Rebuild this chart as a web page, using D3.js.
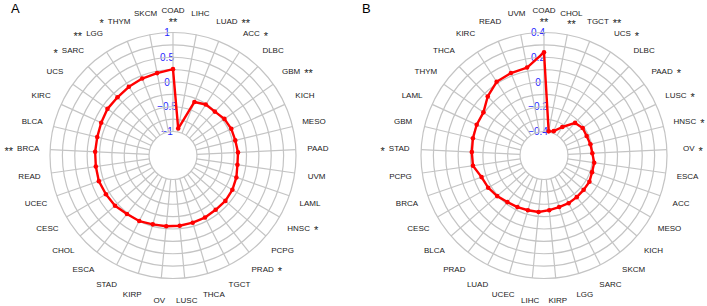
<!DOCTYPE html>
<html>
<head>
<meta charset="utf-8">
<script src="https://cdn.jsdelivr.net/npm/d3@7"></script>
<style>
  body { margin: 0; background: #fff; }
  svg { display: block; font-family: 'Liberation Sans', Arial, sans-serif; }
</style>
</head>
<body>
<div id="chart"></div>
<script>
// panel A
const catsA = ['COAD', 'LIHC', 'LUAD', 'ACC', 'DLBC', 'GBM', 'KICH', 'MESO', 'PAAD', 'UVM', 'LAML',
  'HNSC', 'PCPG', 'PRAD', 'TGCT', 'THCA', 'LUSC', 'OV', 'KIRP', 'STAD', 'ESCA', 'CHOL', 'CESC',
  'UCEC', 'READ', 'BRCA', 'BLCA', 'KIRC', 'UCS', 'SARC', 'LGG', 'THYM', 'SKCM'];
const valsA = [0.26, -0.93, -0.32, -0.26, -0.26, -0.21, -0.19, -0.19, -0.17, -0.17, -0.13,
  -0.10, -0.085, -0.09, -0.075, -0.07, -0.06, -0.05, -0.035, 0.005, 0.02, 0.065, 0.08,
  0.10, 0.09, 0.09, 0.09, 0.11, 0.14, 0.14, 0.165, 0.19, 0.21];
const starsA = { COAD: '**', LUAD: '**', ACC: '*', GBM: '**', HNSC: '*', PRAD: '*',
  BRCA: '**', SARC: '*', LGG: '**', THYM: '*' };
const ticksA = [-1, -0.5, 0, 0.5, 1];

// panel B
const catsB = ['COAD', 'CHOL', 'TGCT', 'UCS', 'DLBC', 'PAAD', 'LUSC', 'HNSC', 'OV', 'ESCA', 'ACC',
  'MESO', 'KICH', 'SKCM', 'SARC', 'LGG', 'KIRP', 'LIHC', 'UCEC', 'LUAD', 'PRAD', 'BLCA', 'CESC',
  'BRCA', 'PCPG', 'STAD', 'GBM', 'LAML', 'THYM', 'THCA', 'KIRC', 'READ', 'UVM'];
const valsB = [0.24, -0.395, -0.382, -0.32, -0.23, -0.21, -0.215, -0.208, -0.203, -0.184, -0.183,
  -0.17, -0.17, -0.166, -0.16, -0.16, -0.15, -0.135, -0.133, -0.125, -0.115, -0.093, -0.073,
  -0.06, -0.014, -0.01, -0.003, 0.004, 0.007, 0.065, 0.114, 0.124, 0.13];
const starsB = { COAD: '**', CHOL: '**', TGCT: '**', UCS: '*', PAAD: '*', LUSC: '*',
  HNSC: '*', OV: '*', STAD: '*' };
const ticksB = [-0.4, -0.2, 0, 0.2, 0.4];

const width = 707;
const height = 306;

const svg = d3.select('#chart').append('svg').attr('width', width).attr('height', height);

const fmtTick = (d) => (d < 0 ? '\u2212' + Math.abs(d) : String(d));

const drawRadar = (g, cats, vals, stars, ticks) => {
  const n = cats.length;
  const [lo, hi] = d3.extent(ticks);
  const r = d3.scaleLinear().domain([lo, hi]).range([24, 123]);
  const angle = d3.scaleLinear().domain([0, n]).range([0, 2 * Math.PI]);
  const px = (i, rad) => rad * Math.sin(angle(i));
  const py = (i, rad) => -rad * Math.cos(angle(i));

  // blue value labels, under the grid
  g.append('g')
    .selectAll('text')
    .data(ticks)
    .join('text')
    .attr('x', -6)
    .attr('y', (d) => -r(d))
    .attr('dy', '0.35em')
    .attr('text-anchor', 'middle')
    .attr('font-size', '10px')
    .attr('fill', '#2626ff')
    .text(fmtTick);

  // rings
  const ringVals = d3.range(9).map((i) => lo + (i * (hi - lo)) / 8);
  const grid = g.append('g').attr('fill', 'none').attr('stroke', '#c4c4c4').attr('stroke-width', 1.2);
  grid
    .selectAll('circle')
    .data(ringVals)
    .join('circle')
    .attr('r', (d) => r(d));

  // spokes
  grid
    .selectAll('line')
    .data(cats)
    .join('line')
    .attr('x1', (d, i) => px(i, r(lo)))
    .attr('y1', (d, i) => py(i, r(lo)))
    .attr('x2', (d, i) => px(i, r(hi)))
    .attr('y2', (d, i) => py(i, r(hi)));

  // data
  const line = d3
    .lineRadial()
    .angle((d, i) => angle(i))
    .radius((d) => r(d))
    .curve(d3.curveLinearClosed);

  g.append('path')
    .datum(vals)
    .attr('d', line)
    .attr('fill', 'none')
    .attr('stroke', '#ff0000')
    .attr('stroke-width', 2.4)
    .attr('stroke-linejoin', 'round');

  g.append('g')
    .attr('fill', '#ff0000')
    .selectAll('circle')
    .data(vals)
    .join('circle')
    .attr('cx', (d, i) => px(i, r(d)))
    .attr('cy', (d, i) => py(i, r(d)))
    .attr('r', 2.3);

  // category labels
  const labR = 145;
  const labels = g.append('g').attr('font-size', '8px').attr('fill', '#1a1a1a');
  cats.forEach((c, i) => {
    const lx = px(i, labR);
    const ly = py(i, labR);
    const t = labels
      .append('text')
      .attr('x', lx)
      .attr('y', ly)
      .attr('dy', '0.35em')
      .attr('text-anchor', 'middle')
      .text(c);
    const s = stars[c];
    if (!s) return;
    const w = t.node().getComputedTextLength();
    const deg = (angle(i) * 180) / Math.PI;
    const st = labels.append('text').attr('font-size', '11px').text(s);
    if (deg < 15 || deg > 345) {
      // near the top the stars sit under the name
      st.attr('x', lx).attr('y', ly + 15).attr('text-anchor', 'middle');
    } else if (deg < 180) {
      st.attr('x', lx + w / 2 + 4).attr('y', ly + 6).attr('text-anchor', 'start');
    } else {
      st.attr('x', lx - w / 2 - 4).attr('y', ly + 6).attr('text-anchor', 'end');
    }
  });
};

const gA = svg.append('g').attr('transform', 'translate(173, 155.5)');
drawRadar(gA, catsA, valsA, starsA, ticksA);

const gB = svg.append('g').attr('transform', 'translate(544, 155.5)');
drawRadar(gB, catsB, valsB, starsB, ticksB);

svg.append('text').attr('x', 11).attr('y', 13).attr('font-size', '13px').text('A');
svg.append('text').attr('x', 362).attr('y', 13).attr('font-size', '13px').text('B');
</script>
</body>
</html>
